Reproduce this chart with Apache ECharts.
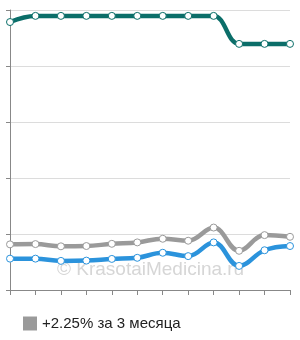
<!DOCTYPE html>
<html>
<head>
<meta charset="utf-8">
<script src="https://cdn.jsdelivr.net/npm/echarts@6/dist/echarts.min.js"></script>
<style>
  html, body { margin: 0; padding: 0; background: #fff; }
  #chart { width: 300px; height: 340px; }
</style>
</head>
<body>
<div id="chart"></div>
<script>
// 12 точек по месяцам, подписи оси скрыты
var months = ['1', '2', '3', '4', '5', '6', '7', '8', '9', '10', '11', '12'];
var tealValues = [95.7, 97.9, 97.9, 97.9, 97.9, 97.9, 97.9, 97.9, 97.9, 87.9, 87.9, 87.9];
var grayValues = [16.3, 16.4, 15.6, 15.7, 16.5, 17.0, 18.3, 17.6, 22.3, 14.0, 19.6, 19.0];
var blueValues = [11.2, 11.2, 10.4, 10.5, 11.1, 11.5, 13.3, 12.1, 17.0, 8.6, 14.2, 15.7];
var legendName = '+2.25% за 3 месяца';

var chart = echarts.init(document.getElementById('chart'));

function lineSeries(name, data, color, z) {
  return {
    name: name,
    type: 'line',
    data: data,
    smooth: 0.4,
    z: z,
    symbol: 'circle',
    symbolSize: 7,
    lineStyle: { color: color, width: 4.5 },
    itemStyle: { color: '#fff', borderColor: color, borderWidth: 1 }
  };
}

var option = {
  animation: false,
  textStyle: { fontFamily: 'Liberation Sans, Arial, sans-serif' },
  grid: { left: 10, right: 10, top: 10, bottom: 50 },
  legend: {
    left: 18,
    top: 311,
    icon: 'rect',
    itemWidth: 14,
    itemHeight: 14,
    itemGap: 10,
    textStyle: { fontSize: 15, color: '#222' },
    data: [{ name: legendName, itemStyle: { color: '#9a9a9a', borderWidth: 0 } }]
  },
  graphic: [{
    type: 'text',
    left: 57,
    top: 260,
    z: 0,
    silent: true,
    style: {
      text: '© KrasotaiMedicina.ru',
      fontSize: 19,
      fontFamily: 'Liberation Sans, Arial, sans-serif',
      fill: '#d6d6d6'
    }
  }],
  xAxis: {
    type: 'category',
    data: months,
    boundaryGap: false,
    axisLine: { lineStyle: { color: '#888', width: 1 } },
    axisTick: { show: true, length: 5, lineStyle: { color: '#888' } },
    axisLabel: { show: false },
    splitLine: { show: false }
  },
  yAxis: {
    type: 'value',
    min: 0,
    max: 100,
    interval: 20,
    axisLine: { show: true, lineStyle: { color: '#888', width: 1 } },
    axisTick: { show: true, length: 4, lineStyle: { color: '#888' } },
    axisLabel: { show: false },
    splitLine: { lineStyle: { color: '#dcdcdc' } }
  },
  series: [
    lineSeries(legendName, grayValues, '#9a9a9a', 3),
    lineSeries('blue', blueValues, '#2b93dc', 4),
    lineSeries('teal', tealValues, '#0b6e69', 5)
  ]
};

chart.setOption(option);
</script>
</body>
</html>
